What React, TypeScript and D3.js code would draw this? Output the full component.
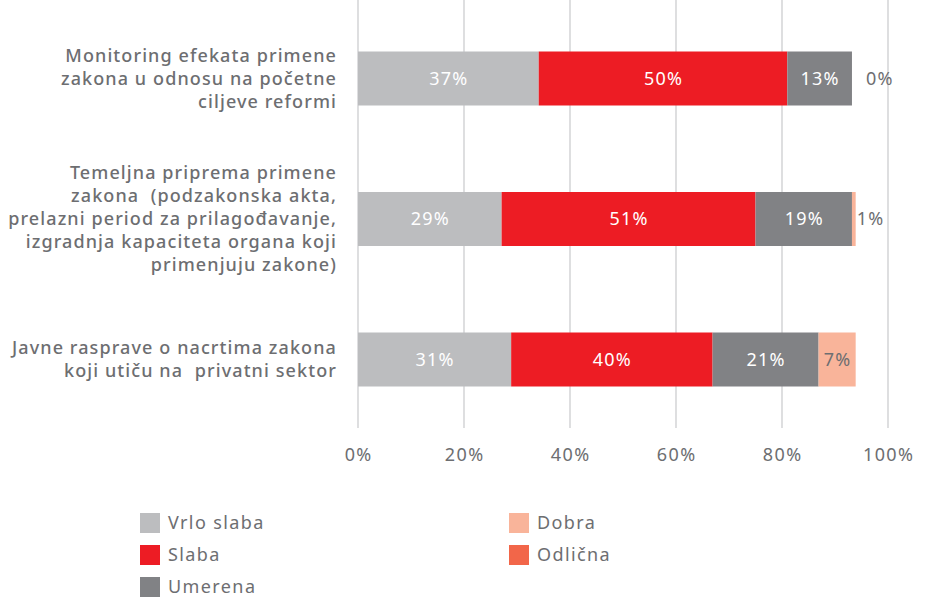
import React from "react";
import * as d3 from "d3";

const categories = [
  ["Monitoring efekata primene", "zakona u odnosu na početne", "ciljeve reformi"],
  ["Temeljna priprema primene", "zakona  (podzakonska akta,", "prelazni period za prilagođavanje,", "izgradnja kapaciteta organa koji", "primenjuju zakone)"],
  ["Javne rasprave o nacrtima zakona", "koji utiču na  privatni sektor"],
];
const seriesNames = ["Vrlo slaba", "Slaba", "Umerena", "Dobra", "Odlična"];
const vrloSlaba = [34.1, 27.1, 28.9];
const slaba = [46.9, 47.9, 38.0];
const umerena = [12.2, 18.2, 20.0];
const dobra = [0, 0.7, 7.0];
const odlicna = [0, 0, 0];
const vrloSlabaLabels = ["37%", "29%", "31%"];
const slabaLabels = ["50%", "51%", "40%"];
const umerenaLabels = ["13%", "19%", "21%"];
const dobraLabels = ["0%", "1%", "7%"];
const ticks = [0, 20, 40, 60, 80, 100];

const colors = ["#bcbdbf", "#ed1c24", "#818285", "#f9b49a", "#f26649"];
const textGray = "#6d6e71";
const font = "'Noto Sans', sans-serif";

export default function App() {
  const W = 927, H = 597;
  const x = d3.scaleLinear().domain([0, 100]).range([358, 888]);
  const y = d3.scalePoint<number>().domain([0, 1, 2]).range([78.5, 359.5]);
  const barH = 54;
  const series = [vrloSlaba, slaba, umerena, dobra, odlicna];
  const labels = [vrloSlabaLabels, slabaLabels, umerenaLabels, dobraLabels, null];
  const lineH = 23;

  const bars: React.ReactNode[] = [];
  const texts: React.ReactNode[] = [];
  categories.forEach((_, i) => {
    let acc = 0;
    series.forEach((s, k) => {
      const v = s[i];
      const x0 = x(acc), x1 = x(acc + v);
      const cy = y(i)!;
      if (v > 0) {
        bars.push(
          <rect key={`b${i}-${k}`} x={x0} y={cy - barH / 2} width={x1 - x0} height={barH} fill={colors[k]} />
        );
      }
      const lab = labels[k];
      if (lab) {
        const w = x1 - x0;
        const inside = w > 30;
        texts.push(
          <text
            key={`t${i}-${k}`}
            x={inside ? (x0 + x1) / 2 + 0.5 : x1 + (v === 0 ? 14 : 1)}
            y={cy}
            dy="0.36em"
            textAnchor={inside ? "middle" : "start"}
            fill={inside && k < 3 ? "#ffffff" : textGray}
            fontSize={18}
            letterSpacing={1.2}
            fontFamily={font}
          >
            {lab[i]}
          </text>
        );
      }
      acc += v;
    });
  });

  const legendItems = [
    { k: 0, x: 140, y: 513 },
    { k: 1, x: 140, y: 545 },
    { k: 2, x: 140, y: 577 },
    { k: 3, x: 509, y: 513 },
    { k: 4, x: 509, y: 545 },
  ];

  return (
    <svg width={W} height={H} style={{ position: "absolute", left: 0, top: 0, background: "#fff" }}>
      {ticks.map((t) => (
        <line key={`g${t}`} x1={x(t)} x2={x(t)} y1={0} y2={428} stroke="#c8c9cb" strokeWidth={1.2} />
      ))}
      {bars}
      {texts}
      {ticks.map((t) => (
        <text key={`tk${t}`} x={x(t) + 0.7} y={455} dy="0.36em" textAnchor="middle" fill={textGray} fontSize={18} letterSpacing={1.4} fontFamily={font}>
          {t}%
        </text>
      ))}
      {categories.map((lines, i) => {
        const cy = y(i)!;
        const start = cy - ((lines.length - 1) * lineH) / 2;
        return (
          <text key={`c${i}`} textAnchor="end" fill={textGray} fontSize={18} letterSpacing={1.1} fontFamily={font} fontWeight={500} style={{ whiteSpace: "pre" }}>
            {lines.map((l, j) => (
              <tspan key={j} x={337} y={start + j * lineH} dy="0.36em">
                {l}
              </tspan>
            ))}
          </text>
        );
      })}
      {legendItems.map(({ k, x: lx, y: ly }) => (
        <g key={`l${k}`}>
          <rect x={lx} y={ly} width={20} height={20} fill={colors[k]} />
          <text x={lx + 28} y={ly + 10} dy="0.36em" fill={textGray} fontSize={18} letterSpacing={1.4} fontFamily={font}>
            {seriesNames[k]}
          </text>
        </g>
      ))}
    </svg>
  );
}
